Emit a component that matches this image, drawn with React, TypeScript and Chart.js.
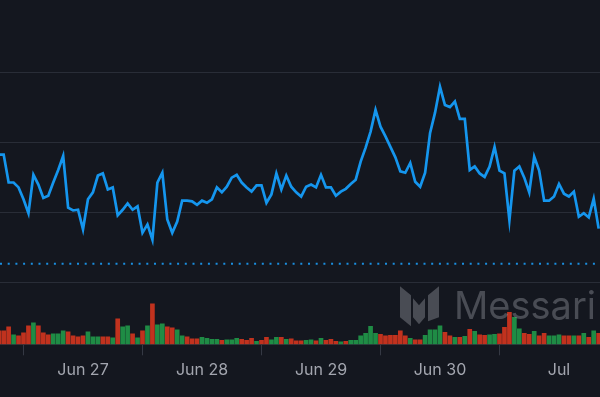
import React, { useEffect, useRef } from 'react';
import { Chart, registerables } from 'chart.js';

Chart.register(...registerables);

// Hourly samples, hour offsets relative to Jun 27 00:00
const firstHour = -17;
const price = [
  1.183, 1.183, 1.143, 1.143, 1.136, 1.119, 1.099, 1.154, 1.140, 1.121,
  1.124, 1.143, 1.161, 1.181, 1.107, 1.103, 1.104, 1.076, 1.119, 1.129,
  1.153, 1.156, 1.133, 1.136, 1.096, 1.104, 1.113, 1.104, 1.109, 1.071,
  1.083, 1.061, 1.143, 1.157, 1.090, 1.071, 1.087, 1.117, 1.117, 1.116,
  1.111, 1.117, 1.114, 1.119, 1.136, 1.129, 1.137, 1.150, 1.154, 1.143,
  1.136, 1.130, 1.139, 1.139, 1.114, 1.126, 1.156, 1.133, 1.153, 1.137,
  1.129, 1.123, 1.137, 1.140, 1.136, 1.154, 1.136, 1.136, 1.124, 1.130,
  1.134, 1.141, 1.147, 1.173, 1.193, 1.216, 1.247, 1.223, 1.209, 1.194,
  1.179, 1.159, 1.157, 1.171, 1.144, 1.137, 1.157, 1.214, 1.243, 1.280,
  1.254, 1.251, 1.259, 1.234, 1.234, 1.161, 1.166, 1.156, 1.151, 1.166,
  1.194, 1.160, 1.156, 1.089, 1.160, 1.166, 1.150, 1.129, 1.180, 1.160,
  1.117, 1.117, 1.123, 1.141, 1.127, 1.123, 1.130, 1.094, 1.099, 1.093,
  1.120, 1.077,
];
const volume = [
  135, 135, 175, 95, 85, 115, 185, 215, 185, 115,
  95, 105, 105, 135, 125, 85, 75, 85, 125, 75,
  75, 75, 75, 65, 255, 175, 185, 105, 65, 135,
  185, 405, 195, 205, 175, 165, 145, 85, 75, 55,
  55, 70, 60, 50, 50, 40, 45, 45, 60, 50,
  40, 60, 30, 40, 70, 45, 70, 70, 50, 55,
  35, 35, 40, 45, 35, 60, 40, 50, 30, 25,
  30, 40, 40, 85, 110, 180, 110, 100, 85, 90,
  90, 135, 85, 60, 45, 45, 90, 145, 145, 185,
  120, 85, 70, 70, 80, 150, 130, 95, 90, 95,
  100, 105, 170, 320, 270, 155, 110, 100, 130, 85,
  110, 85, 85, 95, 85, 85, 85, 85, 110, 70,
  135, 110,
];
// 1 = up hour (green), 0 = down hour (red)
const direction = [
  0, 0, 0, 1, 0, 0, 0, 1, 0, 0,
  0, 1, 1, 1, 0, 0, 0, 0, 1, 1,
  1, 0, 0, 1, 0, 1, 1, 0, 1, 0,
  1, 0, 1, 1, 0, 0, 1, 1, 0, 0,
  0, 1, 1, 1, 1, 0, 1, 1, 1, 0,
  0, 0, 1, 0, 0, 1, 1, 0, 1, 0,
  0, 0, 1, 1, 0, 1, 0, 0, 0, 1,
  0, 1, 1, 1, 1, 1, 1, 0, 0, 0,
  0, 0, 0, 1, 0, 0, 1, 1, 1, 1,
  0, 0, 1, 0, 1, 0, 1, 0, 0, 1,
  1, 0, 0, 0, 1, 1, 0, 0, 1, 0,
  0, 1, 1, 1, 0, 0, 1, 0, 1, 0,
  1, 0,
];
const referenceLevel = 1.0267;
const dayTicks = [0, 24, 48, 72, 96];
const dayLabels = ['Jun 27', 'Jun 28', 'Jun 29', 'Jun 30', 'Jul'];
const priceGrid = [1.0, 1.1, 1.2, 1.3];
const xMin = -16.74;
const xMax = 104.27;

const hours = price.map((_, i) => firstHour + i);

const BG = '#14171f';
const GRID = '#292d37';
const LINE = '#1596ee';
const UP = '#1f8c45';
const DOWN = '#c1321e';

const backgroundPlugin = {
  id: 'bg',
  beforeDraw(chart: any) {
    const { ctx, width, height } = chart;
    ctx.save();
    ctx.fillStyle = BG;
    ctx.fillRect(0, 0, width, height);
    ctx.restore();
  },
};

const watermarkPlugin = {
  id: 'watermark',
  afterDatasetsDraw(chart: any) {
    const { ctx, chartArea } = chart;
    const R = chartArea.right;
    const B = chartArea.bottom;
    ctx.save();
    ctx.fillStyle = 'rgba(160,164,172,0.38)';
    // logo
    const ox = R - 200;
    const oy = B - 58;
    const poly = (pts: number[][]) => {
      ctx.beginPath();
      pts.forEach(([px, py], i) => (i ? ctx.lineTo(ox + px, oy + py) : ctx.moveTo(ox + px, oy + py)));
      ctx.closePath();
      ctx.fill();
    };
    poly([[0, 0], [11, 9], [11, 40], [0, 31]]);
    poly([[13, 12], [19, 19], [25, 12], [25, 31], [19, 38], [13, 31]]);
    poly([[28, 9], [39, 0], [39, 31], [28, 35]]);
    // text
    ctx.font = '400 38.5px Inter, "Open Sans", sans-serif';
    ctx.textAlign = 'right';
    ctx.textBaseline = 'alphabetic';
    ctx.fillText('Messari', R - 4, B - 25.5, 142);
    ctx.restore();
  },
};

export default function App() {
  const ref = useRef<HTMLCanvasElement>(null);

  useEffect(() => {
    if (!ref.current) return;
    const chart = new Chart(ref.current, {
      data: {
        datasets: [
          {
            type: 'line',
            yAxisID: 'y',
            data: hours.map((h, i) => ({ x: h, y: price[i] })),
            borderColor: LINE,
            borderWidth: 2.7,
            pointRadius: 0,
            tension: 0,
            fill: false,
            order: 1,
          },
          {
            type: 'line',
            yAxisID: 'y',
            data: [
              { x: xMin, y: referenceLevel },
              { x: xMax, y: referenceLevel },
            ],
            borderColor: '#1a8fe0',
            borderWidth: 2,
            borderDash: [2, 5.7],
            pointRadius: 0,
            fill: false,
            order: 2,
          },
          {
            type: 'bar',
            yAxisID: 'yVol',
            data: hours.map((h, i) => ({ x: h, y: volume[i] })),
            backgroundColor: direction.map((d) => (d ? UP : DOWN)),
            borderWidth: 0,
            barThickness: 4,
            order: 3,
          },
        ],
      } as any,
      options: {
        animation: false,
        responsive: false,
        events: [],
        layout: { padding: { left: 0, right: 0, top: 0, bottom: 11.5 } },
        plugins: { legend: { display: false }, tooltip: { enabled: false } },
        scales: {
          x: {
            type: 'linear',
            min: xMin,
            max: xMax,
            offset: false,
            afterBuildTicks: (axis: any) => {
              axis.ticks = dayTicks.map((v) => ({ value: v }));
            },
            grid: {
              display: true,
              drawOnChartArea: false,
              drawTicks: true,
              tickLength: 11,
              color: '#353944',
            },
            border: { display: true, color: '#2c303a', width: 1 },
            ticks: {
              autoSkip: false,
              maxRotation: 0,
              padding: 5.5,
              color: '#a3a6af',
              font: { family: 'Inter, "Open Sans", sans-serif', size: 16 },
              callback: (value: any) => {
                const k = dayTicks.indexOf(Number(value));
                return k >= 0 ? dayLabels[k] : '';
              },
            },
          },
          y: {
            type: 'linear',
            position: 'left',
            min: 0.9114,
            max: 1.4043,
            afterBuildTicks: (axis: any) => {
              axis.ticks = priceGrid.map((v) => ({ value: v }));
            },
            grid: { color: GRID, drawTicks: false, lineWidth: 1 },
            border: { display: false },
            ticks: { display: false },
          },
          yVol: {
            type: 'linear',
            position: 'right',
            min: 0,
            max: 3450,
            display: false,
          },
        },
      } as any,
      plugins: [backgroundPlugin, watermarkPlugin],
    });
    return () => chart.destroy();
  }, []);

  return (
    <div style={{ position: 'fixed', left: 0, top: 0, width: 600, height: 397, background: BG }}>
      <canvas ref={ref} width={600} height={397} style={{ display: 'block' }} />
    </div>
  );
}
